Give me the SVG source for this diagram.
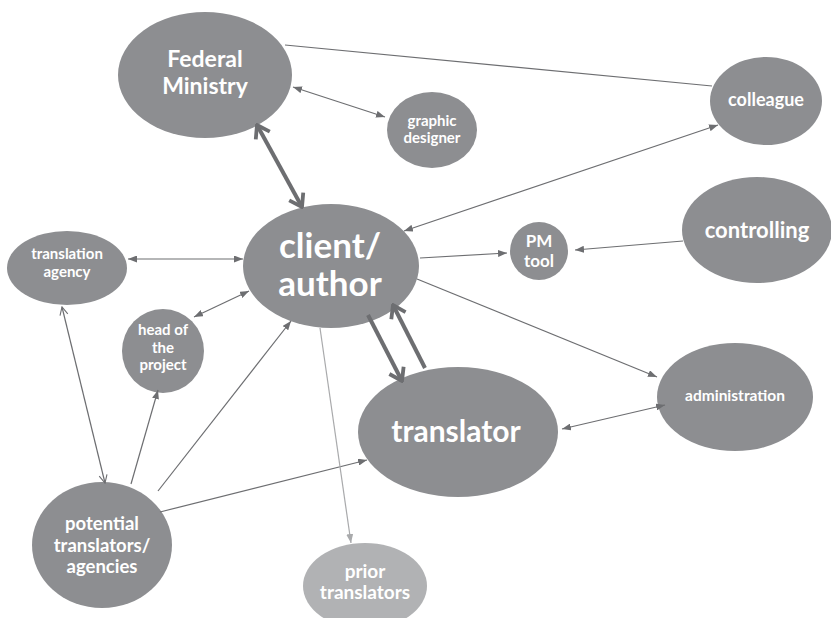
<svg xmlns="http://www.w3.org/2000/svg" width="831" height="618" viewBox="0 0 831 618">
<defs>
<style>
.n{fill:#8d8e91}
.p{fill:#b1b2b4}
.t{fill:#ffffff;font-family:Lato,"Open Sans","Liberation Sans",sans-serif;font-weight:bold;text-anchor:middle}
.c{stroke:#6d6e71;fill:none;stroke-width:1.2}
.k{stroke:#6d6e71;fill:none;stroke-width:4}
</style>
<marker id="tri" markerUnits="userSpaceOnUse" viewBox="0 0 9 7" markerWidth="9" markerHeight="7" refX="9" refY="3.5" orient="auto-start-reverse"><path d="M0,0 L9,3.5 L0,7 z" fill="#6d6e71"/></marker>
<marker id="trl" markerUnits="userSpaceOnUse" viewBox="0 0 9 7" markerWidth="9" markerHeight="7" refX="9" refY="3.5" orient="auto-start-reverse"><path d="M0,0 L9,3.5 L0,7 z" fill="#a9aaac"/></marker>
<marker id="opn" markerUnits="userSpaceOnUse" viewBox="0 0 10 10" markerWidth="10" markerHeight="10" refX="9" refY="5" orient="auto-start-reverse"><path d="M1,1 L9,5 L1,9" fill="none" stroke="#6d6e71" stroke-width="1.1"/></marker>
<marker id="chev" markerUnits="userSpaceOnUse" viewBox="0 0 16 20" markerWidth="16" markerHeight="20" refX="14" refY="10" orient="auto-start-reverse"><path d="M2,2 L14,10 L2,18" fill="none" stroke="#6d6e71" stroke-width="3.8" stroke-linejoin="miter"/></marker>
</defs>
<rect width="831" height="618" fill="#ffffff"/>
<g id="federal-ministry"><ellipse class="n" cx="205" cy="75" rx="87" ry="63"/><text class="t" font-size="23"><tspan x="205" y="67">Federal</tspan><tspan x="205" y="94">Ministry</tspan></text></g>
<g id="graphic-designer"><ellipse class="n" cx="432" cy="130" rx="45" ry="38"/><text class="t" font-size="15"><tspan x="432" y="126">graphic</tspan><tspan x="432" y="143">designer</tspan></text></g>
<g id="colleague"><ellipse class="n" cx="766" cy="101" rx="56" ry="44"/><text class="t" font-size="18" x="766" y="106">colleague</text></g>
<g id="controlling"><ellipse class="n" cx="757" cy="230" rx="75" ry="53"/><text class="t" font-size="22" x="757" y="238">controlling</text></g>
<g id="pm-tool"><ellipse class="n" cx="539" cy="251" rx="29" ry="29"/><text class="t" font-size="17"><tspan x="539" y="247">PM</tspan><tspan x="539" y="267">tool</tspan></text></g>
<g id="client-author"><ellipse class="n" cx="331" cy="266" rx="88" ry="62"/><text class="t" font-size="35"><tspan x="330" y="258">client/</tspan><tspan x="330" y="296">author</tspan></text></g>
<g id="translation-agency"><ellipse class="n" cx="67" cy="268" rx="60" ry="37"/><text class="t" font-size="15"><tspan x="67" y="259">translation</tspan><tspan x="67" y="277">agency</tspan></text></g>
<g id="head-of-project"><ellipse class="n" cx="163" cy="351" rx="41" ry="42"/><text class="t" font-size="15"><tspan x="163" y="335">head of</tspan><tspan x="163" y="353">the</tspan><tspan x="163" y="370">project</tspan></text></g>
<g id="translator"><ellipse class="n" cx="458" cy="432" rx="100" ry="65"/><text class="t" font-size="30" x="456" y="442">translator</text></g>
<g id="administration"><ellipse class="n" cx="735" cy="397" rx="78" ry="54"/><text class="t" font-size="15.5" x="735" y="401">administration</text></g>
<g id="potential-translators"><ellipse class="n" cx="102" cy="545" rx="70" ry="63"/><text class="t" font-size="18.5"><tspan x="102" y="530">potential</tspan><tspan x="102" y="552">translators/</tspan><tspan x="102" y="573">agencies</tspan></text></g>
<g id="prior-translators"><ellipse class="p" cx="365" cy="586" rx="62" ry="43"/><text class="t" font-size="19"><tspan x="365" y="578">prior</tspan><tspan x="365" y="599">translators</tspan></text></g>
<g id="connectors">
<line class="k" x1="257" y1="125" x2="302" y2="207" marker-start="url(#chev)" marker-end="url(#chev)"/>
<line class="c" x1="293" y1="87" x2="385" y2="117" marker-start="url(#tri)" marker-end="url(#tri)"/>
<line class="c" x1="285" y1="45" x2="712" y2="86" stroke-width="1"/>
<line class="c" x1="718" y1="125" x2="404" y2="231" marker-start="url(#tri)" marker-end="url(#tri)"/>
<line class="c" x1="420" y1="258" x2="507" y2="253" marker-end="url(#tri)"/>
<line class="c" x1="683" y1="241" x2="575" y2="250" marker-end="url(#tri)"/>
<line class="c" x1="417" y1="279" x2="657" y2="377" marker-end="url(#tri)"/>
<line class="c" x1="128" y1="259" x2="243" y2="259" marker-start="url(#tri)" marker-end="url(#tri)"/>
<line class="c" x1="194" y1="317" x2="249" y2="291" marker-start="url(#tri)" marker-end="url(#tri)"/>
<line class="c" x1="158" y1="491" x2="291" y2="321" marker-end="url(#tri)"/>
<line class="c" x1="131" y1="484" x2="158" y2="390" marker-end="url(#tri)"/>
<line class="c" x1="62" y1="307" x2="105" y2="483" marker-start="url(#opn)" marker-end="url(#opn)"/>
<line class="c" x1="160" y1="512" x2="367" y2="460" marker-end="url(#tri)"/>
<line x1="320" y1="328" x2="351" y2="543" stroke="#a9aaac" stroke-width="1.2" marker-end="url(#trl)"/>
<line class="c" x1="562" y1="429" x2="665" y2="405" stroke-width="2" marker-start="url(#tri)" marker-end="url(#tri)"/>
<line class="k" x1="368" y1="315" x2="402" y2="381" marker-end="url(#chev)"/>
<line class="k" x1="425" y1="368" x2="393" y2="305" marker-end="url(#chev)"/>
</g>
</svg>
